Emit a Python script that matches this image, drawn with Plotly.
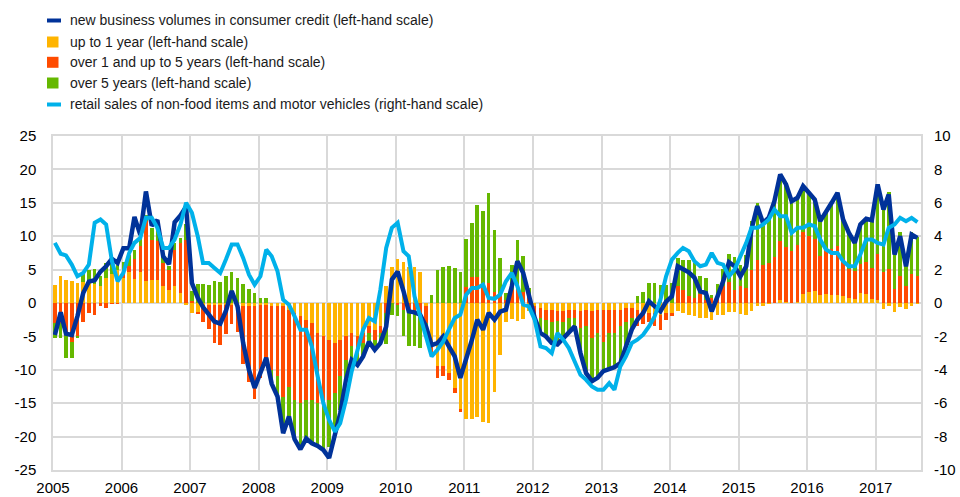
import pandas as pd
import plotly.graph_objects as go

# ---------------- data (monthly, Jan 2005 - Aug 2017) ----------------
months = pd.date_range("2005-01-01", periods=152, freq="MS") + pd.Timedelta(days=10)
x_dates = [d.strftime("%Y-%m-%d") for d in months]

up_to_1y = [2.7, 4.0, 3.4, 3.3, 3.0, 3.2, 3.0, 2.8, 2.5, 3.7, 4.4, 5.0,
            3.8, 4.6, 3.6, 4.7, 3.3, 3.5, 3.4, 2.5, 2.0, 2.5, 1.5, -0.2,
            -1.5, -1.3, -0.3, -0.3, -0.3, -0.3, -0.3, -0.3, -0.3, -0.5, -0.5, -0.5,
            -0.3, -0.3, -0.5, -0.5, -0.5, -1.0, -1.5, -2.0, -2.5, -3.0, -4.5, -5.0,
            -5.5, -6.0, -5.5, -5.0, -4.5, -5.0, -4.5, -3.5, -4.0, -3.5, 2.6, 5.45,
            6.55, 6.2, 5.45, 5.45, 4.7, -0.5, -6.0, -9.5, -9.4, -10.5, -12.75, -16.0,
            -17.4, -17.4, -17.1, -17.75, -17.9, -13.25, -7.75, -2.9, -2.4, -2.75, -2.4, -1.2,
            -0.5, -0.7, -1.0, -1.0, -1.2, -1.2, -1.0, -1.0, -1.2, -1.0, -1.2, -1.0,
            -1.0, -1.0, -1.0, -1.0, -0.8, -0.8, -1.0, -1.2, -1.5, -1.5, -1.8, -1.5,
            -1.5, -1.2, -1.5, -1.8, -2.0, -2.3, -2.3, -2.5, -1.8, -1.8, -1.3, -1.4,
            -1.7, -1.75, -1.25, -0.5, -0.4, -0.1, 0.0, 0.5, 0.1, 0.0, 0.1, 1.35,
            1.6, 1.85, 1.25, 1.35, 1.25, 1.25, 1.0, 0.75, 0.6, 1.5, 1.4, 0.6,
            0.5, -0.85, -0.4, -1.4, -0.65, -0.85, -0.4, -0.1]

over_1_to_5y = [-3.0, -3.0, -4.8, -5.8, -5.0, -2.9, -1.5, -1.8, -0.4, -0.7, -0.1, -0.1,
                0.8, 1.0, 3.0, 3.8, 9.0, 6.0, 5.9, 3.5, 3.0, 5.5, 7.5, 9.4,
                0.3, -0.3, -2.5, -3.6, -5.7, -6.0, -4.4, -2.8, -4.0, -8.7, -11.3, -13.9,
                -11.0, -9.0, -9.5, -10.5, -13.5, -11.5, -13.0, -13.0, -12.0, -11.5, -10.5, -10.0,
                -9.0, -7.5, -5.5, -3.5, -2.0, -2.0, -1.5, -1.0, -1.5, -1.0, -1.5, 0.0,
                -0.3, -1.0, -1.5, -1.5, -1.5, -2.5, -1.5, -1.75, -1.5, -1.0, -0.75, -0.25,
                2.45, 3.85, 3.95, 2.95, 3.0, 1.7, 1.0, 0.5, 2.0, 2.5, 1.7, 0.7,
                -1.0, -1.5, -1.5, -1.8, -1.5, -1.6, -1.2, -1.3, -2.5, -2.5, -4.0, -3.5,
                -4.8, -3.5, -3.5, -2.5, -2.0, -1.5, -2.5, -2.0, -1.3, -2.0, -2.2, -1.0,
                -0.5, 2.6, 1.95, 1.0, 0.7, 1.3, 0.5, 0.8, 1.2, 2.5, 3.2, 2.0,
                2.5, 2.25, 4.9, 6.4, 5.75, 6.0, 6.9, 8.75, 8.3, 7.75, 8.65, 9.25,
                8.5, 7.75, 5.85, 6.55, 6.85, 7.35, 5.6, 4.35, 4.15, 4.4, 4.7, 4.65,
                6.85, 4.6, 5.1, 2.1, 4.1, 2.6, 4.4, 4.0]

over_5y = [-2.3, -2.3, -3.4, -2.4, -0.3, 1.2, 2.0, 2.3, 1.5, 2.3, 1.6, 0.7,
           1.6, 1.6, 1.4, 1.5, 0.8, 1.7, 1.7, 1.2, 0.5, 1.0, 0.8, 2.5,
           1.5, 2.8, 2.9, 2.7, 3.3, 3.2, 4.1, 4.6, 3.8, 2.8, 2.1, 1.5,
           0.8, 0.8, -2.0, -3.0, -5.0, -4.5, -5.9, -6.9, -5.8, -6.5, -6.4, -7.0,
           -7.0, -6.0, -5.0, -3.0, -2.0, -2.3, -2.0, -1.3, -1.5, -1.5, -4.6, -1.8,
           -1.7, -4.0, -5.0, -5.0, -5.2, -0.5, 1.2, 4.95, 5.45, 5.6, 5.3, 4.7,
           7.1, 8.1, 10.75, 10.75, 13.45, 9.25, 5.7, 1.0, 3.7, 6.95, 5.35, 1.5,
           -0.7, -2.3, -2.5, -3.2, -3.5, -2.5, -2.3, -1.2, -3.8, -7.0, -6.5, -6.7,
           -4.4, -5.4, -5.1, -5.5, -3.7, -1.7, 1.0, 1.7, 3.05, 3.0, 2.75, 2.7,
           3.0, 4.1, 4.55, 5.4, 5.3, 2.7, 3.3, 0.45, 1.6, 2.55, 4.2, 4.9,
           3.2, 5.0, 7.35, 8.6, 6.65, 6.85, 8.35, 10.0, 9.35, 7.5, 7.0, 6.9,
           6.4, 5.9, 5.15, 5.6, 6.9, 7.9, 5.9, 5.4, 4.25, 5.85, 6.5, 7.15,
           10.4, 10.25, 11.55, 6.55, 6.55, 3.75, 6.25, 5.85]

new_business = [-4.8, -1.4, -4.6, -4.8, -2.0, 1.5, 3.2, 3.4, 4.7, 5.5, 6.6, 6.0,
                8.2, 8.2, 12.9, 10.2, 16.7, 11.6, 12.4, 7.0, 5.8, 12.1, 13.1, 14.4,
                3.0, 0.8, -0.6, -1.8, -2.8, -3.1, -1.2, 1.8, -0.5, -6.0, -10.0, -12.7,
                -10.2, -8.2, -12.1, -14.0, -19.5, -17.0, -20.4, -21.9, -20.3, -21.0, -21.4, -22.0,
                -23.2, -20.0, -16.5, -11.5, -8.5, -9.3, -8.0, -5.8, -7.0, -6.0, -3.5, 3.5,
                4.7, 1.8, -1.25, -1.4, -1.75, -3.5, -6.3, -6.0, -5.0, -6.5, -8.0, -11.2,
                -8.5, -5.5, -2.5, -4.0, -1.5, -2.5, -1.3, -1.0, 2.5, 6.25, 4.5, 1.0,
                -2.2, -4.5, -5.0, -6.0, -6.2, -5.3, -4.5, -3.5, -7.5, -10.5, -11.7, -11.2,
                -10.2, -9.9, -9.6, -9.0, -6.5, -4.0, -2.5, -1.5, 0.25, -0.5, -1.25, 0.2,
                1.0, 5.5, 5.1, 4.6, 3.8, 1.75, 1.5, -1.25, 1.0, 3.25, 6.1, 5.5,
                4.0, 5.5, 11.0, 14.5, 12.0, 12.75, 15.25, 19.25, 17.75, 15.25, 15.75, 17.5,
                16.5, 15.5, 12.25, 13.5, 15.0, 16.5, 12.5, 10.5, 9.0, 11.75, 12.6, 12.4,
                17.75, 14.0, 16.25, 7.25, 10.0, 5.5, 10.25, 9.75]

retail_sales = [3.6, 2.95, 2.85, 2.3, 1.6, 1.8, 2.3, 4.8, 5.0, 4.7, 2.5, 1.3,
                1.8, 3.0, 3.6, 3.9, 5.1, 5.1, 4.5, 3.3, 3.3, 3.8, 4.7, 6.0,
                5.4, 4.0, 2.4, 2.4, 2.1, 1.8, 2.6, 3.5, 3.5, 2.7, 1.7, 1.1,
                1.6, 3.2, 2.8, 1.9, 0.2, -0.1, -0.8, -1.6, -1.6, -2.6, -4.4, -6.0,
                -7.0, -7.7, -7.2, -5.8, -4.1, -2.8, -1.6, -0.9, -1.1, 0.8, 3.3, 4.5,
                4.8, 3.1, 2.8, 0.4, -0.8, -2.0, -3.2, -2.8, -2.3, -1.6, -0.9, -0.7,
                0.5, 0.9, 0.9, 1.1, 0.3, 0.25, 0.5, 1.3, 1.8, 1.0, -0.1, -0.2,
                -1.0, -2.6, -2.7, -3.0, -1.8, -2.2, -2.7, -3.5, -4.3, -4.6, -5.0, -5.2,
                -5.2, -4.8, -5.2, -3.8, -3.2, -2.4, -2.2, -1.9, -1.4, -0.8, 0.2, 1.6,
                2.6, 3.0, 3.3, 3.1, 2.5, 2.2, 2.3, 3.0, 2.4, 2.3, 1.6, 2.0,
                2.8, 3.6, 4.5, 4.5, 4.7, 5.0, 5.6, 5.2, 5.2, 4.2, 4.5, 4.5,
                4.7, 4.6, 3.8, 3.2, 3.0, 3.0, 2.5, 2.2, 2.2, 2.9, 3.8, 3.8,
                3.6, 3.5, 4.5, 4.7, 5.1, 4.9, 5.1, 4.85]

year_labels = [str(y) for y in range(2005, 2018)]
left_ticks = [-25, -20, -15, -10, -5, 0, 5, 10, 15, 20, 25]
right_ticks = [-10, -8, -6, -4, -2, 0, 2, 4, 6, 8, 10]

legend_names = ["new business volumes in consumer credit (left-hand scale)",
                "up to 1 year (left-hand scale)",
                "over 1 and up to 5 years (left-hand scale)",
                "over 5 years (left-hand scale)",
                "retail sales of non-food items and motor vehicles (right-hand scale)"]

# ---------------- style ----------------
DARK, YEL, RED, GRN, LBLUE = "#003299", "#FFB400", "#FF4B00", "#65B800", "#00B1EA"
GRID = "#d9d9d9"
FONT = "Arial, Liberation Sans, sans-serif"
BAR_W = 19 * 86400000  # bar width in ms

W, H = 960, 497
L, R, T, B = 53, 39, 136, 27
PW, PH = W - L - R, H - T - B


def px(xp):
    return (xp - L) / PW


def py(yp):
    return (H - B - yp) / PH


fig = go.Figure()
for vals, col, nm in [(up_to_1y, YEL, legend_names[1]),
                      (over_1_to_5y, RED, legend_names[2]),
                      (over_5y, GRN, legend_names[3])]:
    fig.add_trace(go.Bar(x=x_dates, y=vals, name=nm, marker_color=col,
                         marker_line_width=0, width=BAR_W, showlegend=False))

fig.add_trace(go.Scatter(x=x_dates, y=new_business, name=legend_names[0], mode="lines",
                         line=dict(color=DARK, width=4.5), showlegend=False))
fig.add_trace(go.Scatter(x=x_dates, y=retail_sales, name=legend_names[4], mode="lines",
                         line=dict(color=LBLUE, width=4), yaxis="y2", showlegend=False))

# manual legend
shapes, annos = [], []
leg_items = [(legend_names[0], DARK, "line", 20.5),
             (legend_names[1], YEL, "box", 42.0),
             (legend_names[2], RED, "box", 62.3),
             (legend_names[3], GRN, "box", 83.0),
             (legend_names[4], LBLUE, "line", 104.5)]
for nm, col, kind, yc in leg_items:
    if kind == "line":
        x0, x1, y0, y1 = 47, 61, yc - 2, yc + 2
    else:
        x0, x1, y0, y1 = 47, 58.5, yc - 5.5, yc + 5.5
    shapes.append(dict(type="rect", xref="paper", yref="paper",
                       x0=px(x0), x1=px(x1), y0=py(y1), y1=py(y0),
                       fillcolor=col, line=dict(width=0)))
    annos.append(dict(text=nm, xref="paper", yref="paper", x=px(67.5), y=py(yc),
                      xanchor="left", yanchor="middle", showarrow=False,
                      font=dict(family=FONT, size=14, color="#1a1a1a")))

fig.update_layout(
    width=W, height=H, margin=dict(l=L, r=R, t=T, b=B, autoexpand=False),
    paper_bgcolor="white", plot_bgcolor="white",
    barmode="relative", bargap=0,
    showlegend=False, shapes=shapes, annotations=annos,
    xaxis=dict(type="date", range=["2005-01-01", "2017-08-30"], automargin=False,
               tickvals=[f"{y}-01-01" for y in year_labels], ticktext=year_labels,
               showgrid=True, gridcolor=GRID, gridwidth=1.5,
               showline=True, linecolor=GRID, linewidth=1.5, mirror=True,
               ticks="", ticklabelstandoff=3,
               tickfont=dict(family=FONT, size=15, color="#000")),
    yaxis=dict(range=[-25, 25], tickvals=left_ticks, ticktext=[str(v) for v in left_ticks],
               automargin=False,
               showgrid=True, gridcolor=GRID, gridwidth=1.5, zeroline=False,
               showline=True, linecolor=GRID, linewidth=1.5, mirror=True,
               ticks="", ticklabelstandoff=12,
               tickfont=dict(family=FONT, size=15, color="#000")),
    yaxis2=dict(range=[-10, 10], tickvals=right_ticks, ticktext=[str(v) for v in right_ticks],
                automargin=False,
                overlaying="y", side="right", showgrid=False, zeroline=False,
                ticks="", ticklabelstandoff=12,
                tickfont=dict(family=FONT, size=15, color="#000")),
)

fig.write_html("out.html", include_plotlyjs=True,
               config={"displayModeBar": False},
               post_script="document.body.style.margin='0px';document.body.style.overflow='hidden';")
